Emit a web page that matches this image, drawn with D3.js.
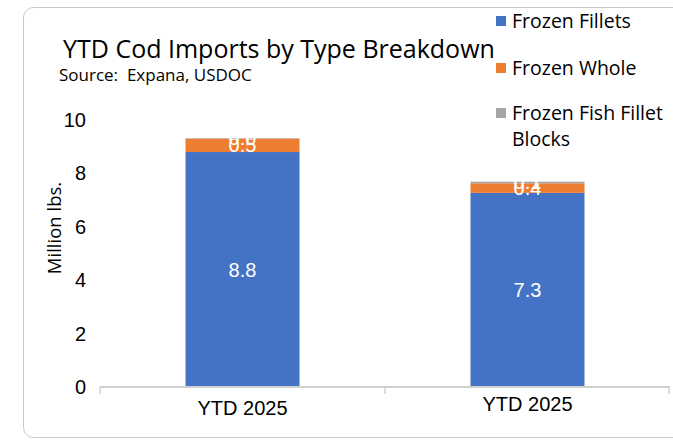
<!DOCTYPE html>
<html>
<head>
<meta charset="utf-8">
<script src="https://cdn.jsdelivr.net/npm/d3@7"></script>
<style>
  body { margin: 0; background: #fff; }
  text { font-family: "Liberation Sans", Arial, sans-serif; }
  .wide { font-family: "Open Sans", "Noto Sans", sans-serif; white-space: pre; }
</style>
</head>
<body>
<script>
// data
var categories = ["YTD 2025 a", "YTD 2025 b"];
var categoryLabels = ["YTD 2025", "YTD 2025"];
var seriesNames = ["Frozen Fillets", "Frozen Whole", "Frozen Fish Fillet Blocks"];
var fillets = [8.8, 7.27];
var whole = [0.5, 0.36];
var blocks = [0.02, 0.06];
var yTicks = [0, 2, 4, 6, 8, 10];
var colors = ["#4472C4", "#ED7D31", "#A5A5A5"];

var w = 673, h = 440;

var svg = d3.select("body").append("svg")
  .attr("width", w)
  .attr("height", h);

// card border
svg.append("rect")
  .attr("x", 23.5).attr("y", 7.5)
  .attr("width", 700).attr("height", 430)
  .attr("rx", 10)
  .attr("fill", "none")
  .attr("stroke", "#c8c8c8");

var x = d3.scaleBand().domain(categories).range([100, 670]).paddingInner(0.6).paddingOuter(0.3);
var y = d3.scaleLinear().domain([0, 10]).range([387, 120]);

// stack the three series
var rows = categories.map(function(c, i) {
  return { cat: c, "Frozen Fillets": fillets[i], "Frozen Whole": whole[i], "Frozen Fish Fillet Blocks": blocks[i] };
});
var stacked = d3.stack().keys(seriesNames)(rows);

var layers = svg.selectAll(".layer")
  .data(stacked)
  .enter().append("g")
  .attr("fill", function(d, i) { return colors[i]; });

layers.selectAll("rect")
  .data(function(d) { return d; })
  .enter().append("rect")
  .attr("x", function(d) { return x(d.data.cat); })
  .attr("width", x.bandwidth())
  .attr("y", function(d) { return y(d[1]); })
  .attr("height", function(d) { return y(d[0]) - y(d[1]); });

// value labels (white, centred in each segment - small ones overlap like the original)
layers.selectAll(".lbl")
  .data(function(d) { return d; })
  .enter().append("text")
  .attr("x", function(d) { return x(d.data.cat) + x.bandwidth() / 2; })
  .attr("y", function(d) { return (y(d[0]) + y(d[1])) / 2; })
  .attr("dy", "0.35em")
  .attr("text-anchor", "middle")
  .attr("fill", "#fff")
  .attr("font-size", 20)
  .text(function(d) { return (d[1] - d[0]).toFixed(1); });

// x axis
var xAxis = svg.append("g")
  .attr("transform", "translate(0,387)")
  .call(d3.axisBottom(x).tickSize(6).tickFormat(function(d, i) { return categoryLabels[i]; }));
xAxis.select(".domain").attr("stroke", "#d0d0d0").attr("stroke-width", 2)
  .attr("d", "M100,0H670");
xAxis.selectAll(".tick line").remove();
[100, 385, 669].forEach(function(px) {
  xAxis.append("line").attr("x1", px).attr("x2", px).attr("y1", 0).attr("y2", 7)
    .attr("stroke", "#d0d0d0").attr("stroke-width", 1.5);
});
xAxis.selectAll(".tick text")
  .attr("font-size", 20)
  .attr("fill", "#000")
  .attr("font-family", "Liberation Sans, Arial, sans-serif")
  .attr("y", function(d, i) { return i === 0 ? 14 : 10; });

// y axis (labels only)
var yAxis = svg.append("g")
  .attr("transform", "translate(86,0)")
  .call(d3.axisLeft(y).tickValues(yTicks).tickSize(0).tickPadding(0));
yAxis.select(".domain").remove();
yAxis.selectAll(".tick text")
  .attr("font-size", 20)
  .attr("fill", "#000")
  .attr("font-family", "Liberation Sans, Arial, sans-serif");

svg.append("text")
  .attr("class", "wide")
  .attr("transform", "translate(61,228) rotate(-90)")
  .attr("text-anchor", "middle")
  .attr("font-size", 18.5)
  .text("Million lbs.");

// title + source
svg.append("text")
  .attr("class", "wide")
  .attr("x", 63).attr("y", 58)
  .attr("font-size", 25)
  .text("YTD Cod Imports by Type Breakdown");
svg.append("text")
  .attr("class", "wide")
  .attr("x", 59).attr("y", 81)
  .attr("font-size", 17)
  .text("Source:  Expana, USDOC");

// legend
var legendRows = [
  { lines: ["Frozen Fillets"], y: 21 },
  { lines: ["Frozen Whole"], y: 68 },
  { lines: ["Frozen Fish Fillet", "Blocks"], y: 113 }
];
var lg = svg.selectAll(".leg").data(legendRows).enter().append("g");
lg.append("rect")
  .attr("x", 496).attr("y", function(d) { return d.y - 5; })
  .attr("width", 10).attr("height", 10)
  .attr("fill", function(d, i) { return colors[i]; });
lg.append("text")
  .attr("class", "wide")
  .attr("x", 512)
  .attr("font-size", 19.5)
  .selectAll("tspan")
  .data(function(d) { return d.lines.map(function(l, k) { return { t: l, y: d.y + k * 26 }; }); })
  .enter().append("tspan")
  .attr("x", 512)
  .attr("y", function(d) { return d.y; })
  .attr("dy", "0.35em")
  .text(function(d) { return d.t; });
</script>
</body>
</html>
